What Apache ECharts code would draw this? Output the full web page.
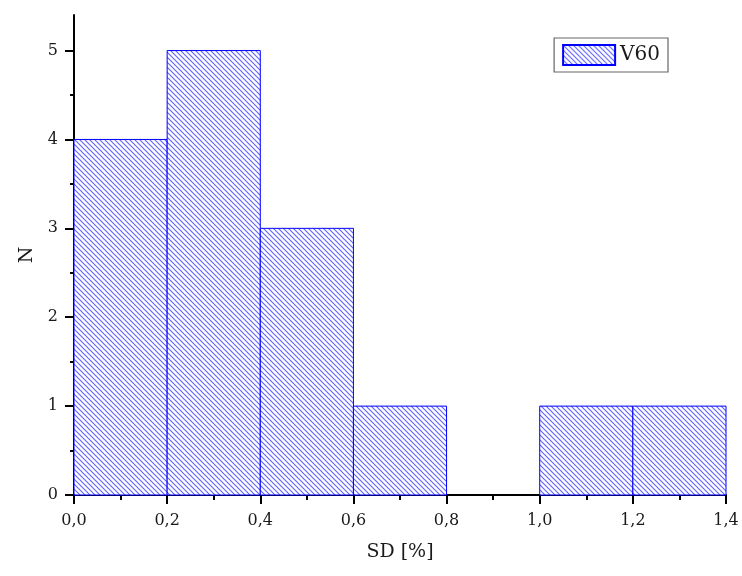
<!DOCTYPE html>
<html>
<head>
<meta charset="utf-8">
<script src="https://cdn.jsdelivr.net/npm/echarts@6/dist/echarts.min.js"></script>
<style>html,body{margin:0;padding:0;background:#fff;}#c{width:742px;height:576px;}</style>
</head>
<body>
<div id="c"></div>
<script>
// Data
var binStarts = [0.0, 0.2, 0.4, 0.6, 0.8, 1.0, 1.2];
var binEnds   = [0.2, 0.4, 0.6, 0.8, 1.0, 1.2, 1.4];
var counts    = [4, 5, 3, 1, 0, 1, 1];
var seriesName = 'V60';
var xTickValues = [0, 0.2, 0.4, 0.6, 0.8, 1.0, 1.2, 1.4];
var yTickValues = [0, 1, 2, 3, 4, 5];
var yMinorTickValues = [0.5, 1.5, 2.5, 3.5, 4.5, 5.5];
var xAxisTitle = 'SD [%]';
var yAxisTitle = 'N';

// Hatch pattern
function makeHatch() {
  var s = 5;
  var cv = document.createElement('canvas');
  cv.width = s; cv.height = s;
  var ctx = cv.getContext('2d');
  ctx.fillStyle = '#ffffff';
  ctx.fillRect(0, 0, s, s);
  ctx.strokeStyle = 'rgba(40,40,255,0.72)';
  ctx.lineWidth = 1.15;
  ctx.beginPath();
  ctx.moveTo(-1, -1); ctx.lineTo(s + 1, s + 1);
  ctx.moveTo(s - 1, -1); ctx.lineTo(s + 1, 1);
  ctx.moveTo(-1, s - 1); ctx.lineTo(1, s + 1);
  ctx.stroke();
  return { image: cv, repeat: 'repeat' };
}
var hatch = makeHatch();

var data = binStarts.map(function (s, i) { return [s, binEnds[i], counts[i]]; });

var font = '"DejaVu Serif", serif';
var chart = echarts.init(document.getElementById('c'), null, { renderer: 'canvas' });
chart.setOption({
  animation: false,
  backgroundColor: '#ffffff',
  grid: { left: 74, right: 16, top: 15, bottom: 81 },
  legend: {
    data: [{ name: seriesName, icon: 'rect' }],
    right: 74, top: 38,
    itemWidth: 52, itemHeight: 20,
    itemGap: 5,
    padding: [6, 8, 6, 8],
    borderColor: '#666', borderWidth: 1.2,
    textStyle: { fontFamily: font, fontSize: 20, color: '#1a1a1a' }
  },
  xAxis: {
    type: 'value', min: 0, max: 1.4, interval: 0.2,
    name: xAxisTitle, nameLocation: 'middle', nameGap: 48,
    nameTextStyle: { fontFamily: font, fontSize: 19, color: '#1a1a1a' },
    axisLine: { onZero: false, lineStyle: { color: '#000', width: 2 } },
    axisTick: { show: true, length: 9, lineStyle: { color: '#000', width: 2 }, customValues: xTickValues },
    minorTick: { show: true, splitNumber: 2, length: 5, lineStyle: { color: '#000', width: 2 } },
    splitLine: { show: false },
    axisLabel: { customValues: xTickValues, fontFamily: font, fontSize: 16, color: '#1a1a1a', margin: 18,
      formatter: function (v) { return v.toFixed(1).replace('.', ','); } }
  },
  yAxis: [{
    type: 'value', min: 0, max: 5.4,
    name: yAxisTitle, nameLocation: 'middle', nameGap: 37,
    nameTextStyle: { fontFamily: font, fontSize: 19, color: '#1a1a1a' },
    axisLine: { show: true, onZero: false, lineStyle: { color: '#000', width: 2 } },
    axisTick: { show: true, length: 9, lineStyle: { color: '#000', width: 2 }, customValues: yTickValues },
    splitLine: { show: false },
    axisLabel: { customValues: yTickValues, fontFamily: font, fontSize: 16, color: '#1a1a1a', margin: 16 }
  }, {
    type: 'value', min: 0, max: 5.4, position: 'left',
    axisLine: { show: false },
    axisTick: { show: true, length: 4, lineStyle: { color: '#000', width: 2 }, customValues: yMinorTickValues },
    axisLabel: { show: false },
    splitLine: { show: false }
  }],
  series: [{
    name: seriesName,
    type: 'custom',
    itemStyle: { color: hatch, borderColor: '#0000ff', borderWidth: 1 },
    encode: { x: [0, 1], y: 2 },
    data: data,
    renderItem: function (params, api) {
      var h = api.value(2);
      if (!h) return null;
      var p0 = api.coord([api.value(0), h]);
      var p1 = api.coord([api.value(1), 0]);
      return {
        type: 'rect',
        shape: { x: p0[0], y: p0[1], width: p1[0] - p0[0], height: p1[1] - p0[1] },
        style: { fill: hatch, stroke: '#0000ff', lineWidth: 1 }
      };
    }
  }]
});
</script>
</body>
</html>
